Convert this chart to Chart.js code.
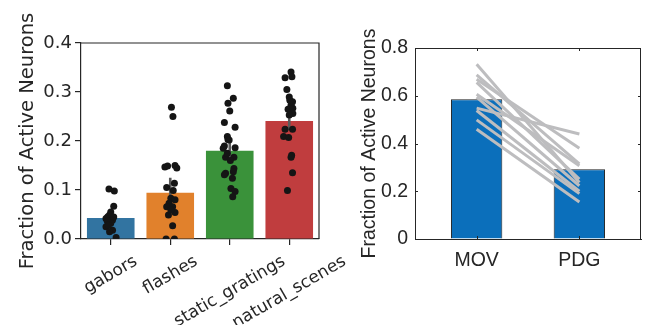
<!DOCTYPE html>
<html><head><meta charset="utf-8">
<script src="https://cdn.jsdelivr.net/npm/chart.js@4"></script>
<style>
html,body{margin:0;padding:0;background:#fff;}
#w{position:relative;width:645px;height:325px;overflow:hidden;}
#c1{position:absolute;left:0;top:0;}
#c2{position:absolute;left:345px;top:0;}
</style></head><body>
<div id="w"><canvas id="c1" width="350" height="325"></canvas><canvas id="c2" width="300" height="325"></canvas></div>
<script>
// ---------- data: left panel ----------
const stimuli = ['gabors', 'flashes', 'static_gratings', 'natural_scenes'];
const stimMeans = [0.043, 0.0945, 0.180, 0.241];
const stimErrLow = [0.037, 0.077, 0.160, 0.222];
const stimErrHigh = [0.052, 0.125, 0.200, 0.263];
const stimColors = ['#3274a1', '#e1812c', '#3a923a', '#c03d3e'];

const gaborsVals = [0.102, 0.098, 0.067, 0.055, 0.049, 0.0455, 0.042, 0.039, 0.035, 0.032, 0.025, 0.018, 0.015, 0.003, 0.038, 0.045, 0.028];
const gaborsJitter = [-0.03, 0.06, 0.05, 0.00, -0.02, -0.05, -0.08, 0.03, -0.05, 0.00, -0.08, 0.03, -0.02, 0.09, -0.06, 0.05, -0.04];
const flashesVals = [0.269, 0.250, 0.147, 0.149, 0.150, 0.145, 0.114, 0.105, 0.099, 0.083, 0.080, 0.073, 0.066, 0.066, 0.054, 0.049, 0.027, 0.0, 0.0, 0.059];
const flashesJitter = [0.02, 0.045, -0.09, -0.045, 0.08, 0.11, 0.07, -0.06, 0.05, 0.01, 0.08, -0.02, 0.04, -0.06, 0.08, -0.03, 0.04, -0.07, 0.07, 0.01];
const staticVals = [0.313, 0.287, 0.277, 0.261, 0.238, 0.228, 0.209, 0.203, 0.190, 0.185, 0.186, 0.167, 0.167, 0.160, 0.144, 0.137, 0.134, 0.131, 0.124, 0.103, 0.097, 0.086, 0.202, 0.175];
const staticJitter = [-0.04, 0.06, -0.03, 0.00, -0.09, 0.09, -0.04, -0.03, -0.09, -0.11, 0.09, -0.07, 0.07, 0.01, 0.07, 0.06, -0.07, -0.09, 0.045, 0.02, 0.09, 0.05, -0.01, -0.04];
const naturalVals = [0.341, 0.329, 0.331, 0.305, 0.290, 0.280, 0.273, 0.265, 0.267, 0.256, 0.253, 0.224, 0.224, 0.209, 0.207, 0.171, 0.167, 0.135, 0.099, 0.283];
const naturalJitter = [0.03, -0.07, 0.045, -0.04, 0.00, 0.055, 0.03, -0.02, 0.06, 0.06, 0.00, -0.07, 0.055, -0.095, -0.01, 0.04, 0.03, 0.055, -0.03, 0.01];
const leftTicks = [0, 0.1, 0.2, 0.3, 0.4];

// ---------- data: right panel ----------
const conditions = ['MOV', 'PDG'];
const condMeans = [0.585, 0.292];
const movVals = [0.732, 0.687, 0.669, 0.656, 0.606, 0.594, 0.548, 0.538, 0.499, 0.460];
const pdgVals = [0.237, 0.315, 0.380, 0.251, 0.307, 0.223, 0.440, 0.200, 0.190, 0.155];
const rightTicks = [0, 0.2, 0.4, 0.6, 0.8];

// ---------- left chart ----------
const stripSets = [gaborsVals, flashesVals, staticVals, naturalVals];
const stripJit = [gaborsJitter, flashesJitter, staticJitter, naturalJitter];
const stripData = [];
stripSets.forEach((vals, i) => vals.forEach((v, k) => stripData.push({x: i + stripJit[i][k], y: v})));

const INK = '#262626';
const leftDecor = {
  id: 'leftDecor',
  afterDraw(chart) {
    const {ctx, chartArea: a} = chart;
    const xs = chart.scales.x;
    ctx.save();
    ctx.strokeStyle = INK; ctx.lineWidth = 1.2;
    ctx.beginPath();
    ctx.moveTo(a.left, a.top); ctx.lineTo(a.right, a.top); ctx.lineTo(a.right, a.bottom);
    ctx.stroke();
    const fs = 17;
    ctx.font = fs + 'px "DejaVu Sans"';
    ctx.fillStyle = INK; ctx.textAlign = 'center'; ctx.textBaseline = 'middle';
    const ang = Math.PI / 6;
    const labels = xs.getLabels();
    labels.forEach((label, i) => {
      const w = ctx.measureText(label).width;
      const bh = w * Math.sin(ang) + fs * Math.cos(ang);
      const cx = xs.getPixelForTick(i);
      const cy = a.bottom + 14 + bh / 2;
      ctx.save(); ctx.translate(cx, cy); ctx.rotate(-ang); ctx.fillText(label, 0, 0); ctx.restore();
    });
    ctx.restore();
  }
};

new Chart(document.getElementById('c1'), {
  type: 'bar',
  data: {
    labels: stimuli,
    datasets: [
      {type: 'scatter', data: stripData, xAxisID: 'xj', yAxisID: 'y', grouped: false, backgroundColor: '#151515', borderWidth: 0, pointRadius: 3.5, order: 1},
      {type: 'bar', data: stimuli.map((s, i) => [stimErrLow[i], stimErrHigh[i]]), xAxisID: 'x', yAxisID: 'y', grouped: false, backgroundColor: '#5a5a5a', maxBarThickness: 2.6, order: 2},
      {type: 'bar', data: stimMeans, xAxisID: 'x', yAxisID: 'y', grouped: false, backgroundColor: stimColors, categoryPercentage: 1, barPercentage: 0.8, order: 3}
    ]
  },
  options: {
    responsive: false, animation: false,
    layout: {padding: {left: 0, top: 43, right: 31, bottom: 0}},
    plugins: {legend: {display: false}, tooltip: {enabled: false}},
    scales: {
      x: {
        type: 'category', offset: true,
        grid: {drawOnChartArea: false, offset: false, tickLength: 6, color: INK, lineWidth: 1.2},
        border: {color: INK, width: 1.2},
        ticks: {display: false},
        afterFit: s => { s.height = 86; }
      },
      xj: {type: 'linear', display: false, min: -0.5, max: 3.5, offset: false},
      y: {
        min: 0, max: 0.4,
        afterBuildTicks: s => { s.ticks = leftTicks.map(v => ({value: v})); },
        ticks: {callback: v => Number(v).toFixed(1), font: {family: 'DejaVu Sans', size: 18}, color: INK, padding: 3},
        grid: {drawOnChartArea: false, tickLength: 6, color: INK, lineWidth: 1.2},
        border: {color: INK, width: 1.2},
        title: {display: true, text: 'Fraction of Active Neurons', font: {family: 'DejaVu Sans', size: 19.5}, color: INK, padding: {top: 16, bottom: 0}},
        afterFit: s => { s.width = 81; }
      }
    }
  },
  plugins: [leftDecor]
});

// ---------- right chart ----------
const rightDecor = {
  id: 'rightDecor',
  afterDraw(chart) {
    const {ctx, chartArea: a} = chart;
    const ys = chart.scales.y, xs = chart.scales.x;
    ctx.save();
    ctx.strokeStyle = INK; ctx.lineWidth = 1;
    ctx.beginPath();
    ctx.moveTo(a.left, a.top + 0.5); ctx.lineTo(a.right - 0.5, a.top + 0.5); ctx.lineTo(a.right - 0.5, a.bottom);
    rightTicks.forEach(v => {
      const y = Math.round(ys.getPixelForValue(v)) + 0.5;
      ctx.moveTo(a.left, y); ctx.lineTo(a.left + 3, y);
      ctx.moveTo(a.right, y); ctx.lineTo(a.right - 3, y);
    });
    [1, 2].forEach(v => {
      const x = Math.round(xs.getPixelForValue(v)) + 0.5;
      ctx.moveTo(x, a.bottom); ctx.lineTo(x, a.bottom - 3);
      ctx.moveTo(x, a.top); ctx.lineTo(x, a.top + 3);
    });
    ctx.stroke();
    ctx.restore();
  }
};

const lineSets = movVals.map((m, i) => ({
  type: 'line', data: [{x: 1, y: m}, {x: 2, y: pdgVals[i]}],
  borderColor: '#bdbdbf', borderWidth: 3, pointRadius: 0, fill: false, order: 1
}));

new Chart(document.getElementById('c2'), {
  type: 'bar',
  data: {
    datasets: [
      {type: 'bar', data: conditions.map((c, i) => ({x: i + 1, y: condMeans[i]})), backgroundColor: '#0b6fbb', borderColor: '#202020', borderWidth: 1, categoryPercentage: 1, barPercentage: 0.5, order: 2},
      ...lineSets
    ]
  },
  options: {
    responsive: false, animation: false,
    layout: {padding: {left: 0, top: 48, right: 4, bottom: 0}},
    plugins: {legend: {display: false}, tooltip: {enabled: false}},
    scales: {
      x: {
        type: 'linear', min: 0.4, max: 2.6, offset: false,
        afterBuildTicks: s => { s.ticks = [{value: 1}, {value: 2}]; },
        ticks: {callback: v => conditions[Math.round(v) - 1], font: {family: '"Liberation Sans", Arial, sans-serif', size: 19.5}, color: INK, padding: 10},
        grid: {display: true, drawOnChartArea: false, drawTicks: false},
        border: {color: INK, width: 1},
        afterFit: s => { s.height = 86; }
      },
      y: {
        min: 0, max: 0.8,
        afterBuildTicks: s => { s.ticks = rightTicks.map(v => ({value: v})); },
        ticks: {callback: v => (v === 0 ? '0' : Number(v).toFixed(1)), font: {family: '"Liberation Sans", Arial, sans-serif', size: 19.5}, color: INK, padding: 7},
        grid: {display: true, drawOnChartArea: false, drawTicks: false},
        border: {color: INK, width: 1},
        title: {display: true, text: 'Fraction of Active Neurons', font: {family: '"Liberation Sans", Arial, sans-serif', size: 19.5}, color: INK, padding: {top: 13, bottom: 0}},
        afterFit: s => { s.width = 70; }
      }
    }
  },
  plugins: [rightDecor]
});
</script>
</body></html>
